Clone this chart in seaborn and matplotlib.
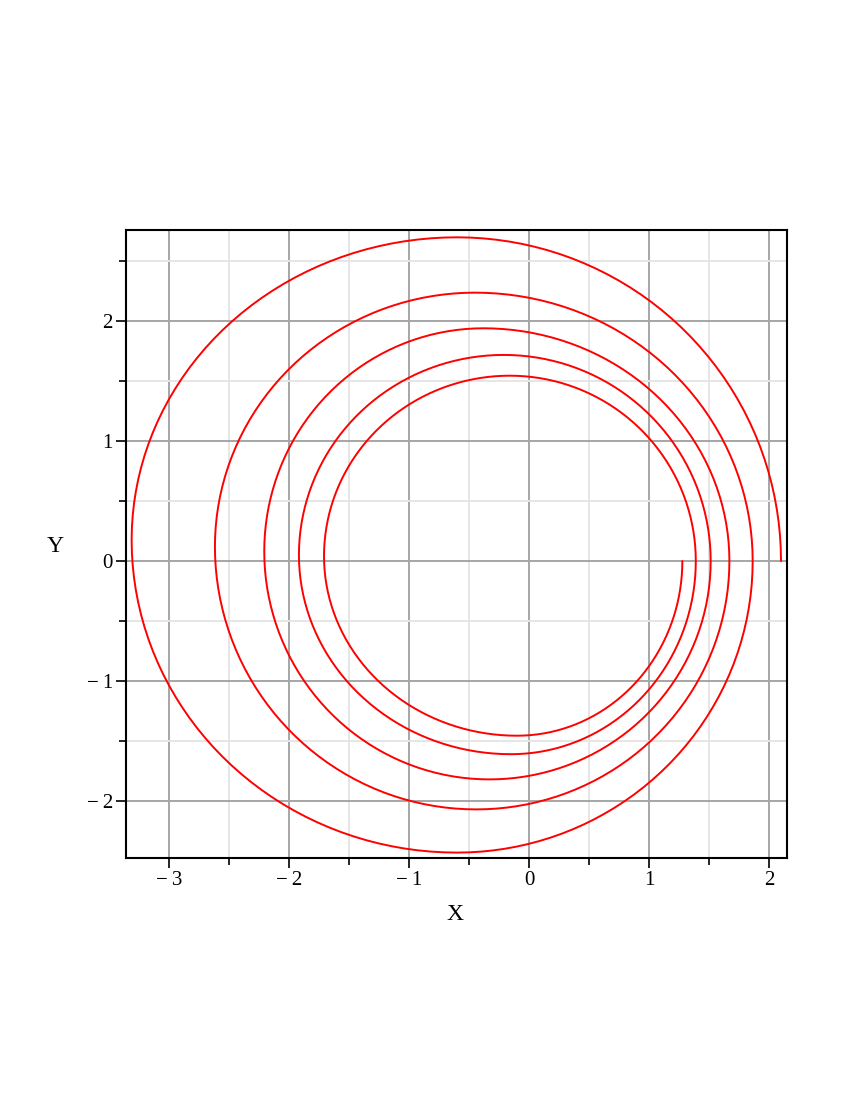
import numpy as np
import pandas as pd
import matplotlib
matplotlib.use("Agg")
import matplotlib.pyplot as plt
from matplotlib.ticker import MultipleLocator, FixedFormatter
import seaborn as sns

# Turning points of the spiral, in drawing order
# (start at outer right end, counter-clockwise: right -> top -> left -> bottom -> right ...)
right_x = [2.10, 1.864, 1.67, 1.514, 1.39, 1.278]
right_y = [0.0, 0.0, 0.0, 0.0, 0.0, 0.0]
top_x = [-0.60, -0.45, -0.38, -0.21, -0.16]
top_y = [2.697, 2.236, 1.939, 1.717, 1.544]
left_x = [-3.311, -2.617, -2.206, -1.917, -1.708]
left_y = [0.175, 0.12, 0.08, 0.05, 0.04]
bottom_x = [-0.60, -0.44, -0.33, -0.15, -0.10]
bottom_y = [-2.43, -2.07, -1.82, -1.61, -1.456]

x_ticks = [-3, -2, -1, 0, 1, 2]
x_tick_labels = ["\u2212\u20093", "\u2212\u20092", "\u2212\u20091", "0", "1", "2"]
y_ticks = [-2, -1, 0, 1, 2]
y_tick_labels = ["\u2212\u20092", "\u2212\u20091", "0", "1", "2"]


def quarter(cx, cy, a, b, t0, t1, n=40):
    t = np.linspace(np.radians(t0), np.radians(t1), n)
    return cx + a * np.cos(t), cy + b * np.sin(t)


# Join consecutive turning points with quarter-elliptic arcs
xs, ys = [], []
for i in range(len(top_x)):
    cx, cy = top_x[i], right_y[i]
    x, y = quarter(cx, cy, right_x[i] - cx, top_y[i] - cy, 0, 90)
    xs.append(x); ys.append(y)
    cx, cy = top_x[i], left_y[i]
    x, y = quarter(cx, cy, cx - left_x[i], top_y[i] - cy, 90, 180)
    xs.append(x); ys.append(y)
    cx, cy = bottom_x[i], left_y[i]
    x, y = quarter(cx, cy, cx - left_x[i], cy - bottom_y[i], 180, 270)
    xs.append(x); ys.append(y)
    cx, cy = bottom_x[i], right_y[i + 1]
    x, y = quarter(cx, cy, right_x[i + 1] - cx, cy - bottom_y[i], 270, 360)
    xs.append(x); ys.append(y)

X = np.concatenate(xs)
Y = np.concatenate(ys)
df = pd.DataFrame({"X": X, "Y": Y})

sns.set_style("white")
plt.rcParams["font.family"] = ["Liberation Serif", "DejaVu Serif"]
plt.rcParams["text.color"] = "black"
plt.rcParams["axes.labelcolor"] = "black"
plt.rcParams["xtick.color"] = "black"
plt.rcParams["ytick.color"] = "black"

fig = plt.figure(figsize=(8.5, 11), dpi=100)
ax = fig.add_axes([126 / 850, 1 - 858 / 1100, (787 - 126) / 850, (858 - 230) / 1100])

sns.lineplot(data=df, x="X", y="Y", sort=False, estimator=None, color="#ff0000",
             linewidth=1.4, ax=ax, zorder=3)

ax.set_xlim(-3.358, 2.15)
ax.set_ylim(-2.475, 2.758)
ax.set_xticks(x_ticks)
ax.set_xticklabels(x_tick_labels)
ax.set_yticks(y_ticks)
ax.set_yticklabels(y_tick_labels)
ax.xaxis.set_minor_locator(MultipleLocator(0.5))
ax.yaxis.set_minor_locator(MultipleLocator(0.5))

ax.set_axisbelow(True)
ax.grid(which="major", color="#a6a6a6", linewidth=1.4)
ax.grid(which="minor", color="#e6e6e6", linewidth=1.4)

for s in ax.spines.values():
    s.set_visible(True)
    s.set_color("black")
    s.set_linewidth(1.5)

ax.tick_params(which="major", direction="out", length=7, width=1.2, colors="black",
               labelsize=15, bottom=True, left=True, pad=2.5)
ax.tick_params(which="minor", direction="out", length=5, width=1.2, colors="black",
               bottom=True, left=True)

ax.set_xlabel("X", fontsize=17)
ax.set_ylabel("Y", fontsize=17, rotation=0)
ax.xaxis.set_label_coords((455 - 126) / 661, (858 - 914) / 628)
ax.yaxis.set_label_coords((55 - 126) / 661, (858 - 546) / 628)
ax.xaxis.label.set_va("center")
ax.yaxis.label.set_va("center")
ax.yaxis.label.set_ha("center")

fig.savefig("out.png", dpi=100, facecolor="white")
